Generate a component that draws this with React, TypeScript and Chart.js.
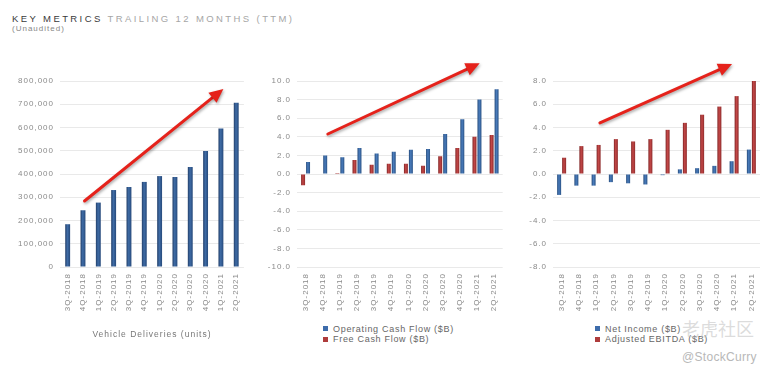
import React, { useEffect, useRef } from "react";
import { Chart, registerables } from "chart.js";

Chart.register(...registerables);

// ---------- data ----------
const quarters = [
  "3Q-2018", "4Q-2018", "1Q-2019", "2Q-2019", "3Q-2019", "4Q-2019",
  "1Q-2020", "2Q-2020", "3Q-2020", "4Q-2020", "1Q-2021", "2Q-2021",
];
const vehicleDeliveries = [184000, 244000, 277000, 331000, 344000, 366000, 391000, 387000, 430000, 499000, 596000, 706000];
const operatingCashFlow = [1.3, 2.0, 1.8, 2.8, 2.2, 2.4, 2.6, 2.7, 4.3, 5.9, 8.0, 9.1];
const freeCashFlow = [-1.2, 0.0, 0.1, 1.5, 1.0, 1.1, 1.1, 0.9, 1.9, 2.8, 4.0, 4.2];
const netIncome = [-1.8, -1.0, -1.0, -0.7, -0.8, -0.9, -0.1, 0.4, 0.5, 0.7, 1.1, 2.1];
const adjustedEbitda = [1.4, 2.4, 2.5, 3.0, 2.8, 3.0, 3.8, 4.4, 5.1, 5.8, 6.7, 8.0];

// axis ranges [min, max, step]
const deliveriesAxis = [0, 800000, 100000];
const cashAxis = [-10, 10, 2];
const incomeAxis = [-8, 8, 2];

// trend arrows in data units: [categoryIndex, value]
const deliveriesArrowFrom = [1.1, 284000];
const deliveriesArrowTo = [10.16, 766000];
const cashArrowFrom = [1.3, 4.3];
const cashArrowTo = [10.16, 11.9];
const incomeArrowFrom = [2.22, 4.4];
const incomeArrowTo = [9.88, 9.46];

const titleMain = "KEY METRICS";
const titleSub = "TRAILING 12 MONTHS (TTM)";
const titleNote = "(Unaudited)";
const deliveriesLabel = "Vehicle Deliveries (units)";
const cashLabels = ["Operating Cash Flow ($B)", "Free Cash Flow ($B)"];
const incomeLabels = ["Net Income ($B)", "Adjusted EBITDA ($B)"];

// ---------- styles ----------
const BLUE = "#3d6cab";
const RED = "#ae3b3b";
const BLUE_STOPS = ["#244a7a", "#4a7cbc", "#2a5386"];
const BLUE_DARK_STOPS = ["#223f6a", "#3f6ca6", "#26497a"];
const RED_STOPS = ["#7f2424", "#c44848", "#8e2b2b"];
const ARROW_RED = "#e5221b";
const FONT = '"Liberation Sans", Arial, Helvetica, sans-serif';
const TICK_COLOR = "#8a8a8a";
const GRID_COLOR = "#e9e9e9";

const spacingPlugin = {
  id: "letterSpacing",
  beforeLayout(chart: any) {
    (chart.ctx as any).letterSpacing = "1px";
  },
  beforeDraw(chart: any) {
    (chart.ctx as any).letterSpacing = "1px";
  },
};

const gradientPlugin = {
  id: "barGradient",
  beforeDatasetsDraw(chart: any) {
    const ctx = chart.ctx;
    chart.data.datasets.forEach((ds: any, i: number) => {
      const stops = ds.gradientStops;
      if (!stops) return;
      const meta = chart.getDatasetMeta(i);
      meta.data.forEach((el: any) => {
        const w = el.width || 1;
        const x0 = el.x - w / 2;
        const g = ctx.createLinearGradient(x0, 0, x0 + w, 0);
        g.addColorStop(0, stops[0]);
        g.addColorStop(0.45, stops[1]);
        g.addColorStop(1, stops[2]);
        el.options.backgroundColor = g;
      });
    });
  },
};

const arrowPlugin = {
  id: "trendArrow",
  afterDraw(chart: any, _args: any, opts: any) {
    if (!opts || !opts.from) return;
    const xs = chart.scales.x;
    const ys = chart.scales.y;
    const x0 = xs.getPixelForValue(opts.from[0]);
    const y0 = ys.getPixelForValue(opts.from[1]);
    const x1 = xs.getPixelForValue(opts.to[0]);
    const y1 = ys.getPixelForValue(opts.to[1]);
    const ang = Math.atan2(y1 - y0, x1 - x0);
    const head = 14;
    const hw = 6.5;
    const bx = x1 - head * Math.cos(ang);
    const by = y1 - head * Math.sin(ang);
    const ctx = chart.ctx;
    ctx.save();
    ctx.shadowColor = "rgba(0,0,0,0.35)";
    ctx.shadowBlur = 3;
    ctx.shadowOffsetX = 1;
    ctx.shadowOffsetY = 1.5;
    ctx.strokeStyle = ARROW_RED;
    ctx.fillStyle = ARROW_RED;
    ctx.lineWidth = 3;
    ctx.lineCap = "round";
    ctx.beginPath();
    ctx.moveTo(x0, y0);
    ctx.lineTo(bx + 2 * Math.cos(ang), by + 2 * Math.sin(ang));
    ctx.stroke();
    ctx.beginPath();
    ctx.moveTo(x1, y1);
    ctx.lineTo(bx + hw * Math.sin(ang), by - hw * Math.cos(ang));
    ctx.lineTo(bx - hw * Math.sin(ang), by + hw * Math.cos(ang));
    ctx.closePath();
    ctx.fill();
    ctx.restore();
  },
};

const tickFont = { family: FONT, size: 8 };

function makeOptions(p: {
  axis: number[];
  yWidth: number;
  xHeight: number;
  padRight: number;
  format: (v: number) => string;
  arrowFrom: number[];
  arrowTo: number[];
  xTitle?: string;
}) {
  return {
    responsive: false,
    animation: false,
    layout: { padding: { top: 81, right: p.padRight, left: 0, bottom: 0 } },
    plugins: {
      legend: { display: false },
      tooltip: { enabled: false },
      trendArrow: { from: p.arrowFrom, to: p.arrowTo },
    },
    scales: {
      x: {
        grid: { display: false, drawTicks: false },
        border: { display: false },
        ticks: {
          font: tickFont,
          color: TICK_COLOR,
          minRotation: 90,
          maxRotation: 90,
          autoSkip: false,
          padding: 6,
        },
        title: p.xTitle
          ? {
              display: true,
              text: p.xTitle,
              color: "#777",
              font: { family: FONT, size: 8.5 },
              padding: { top: 0, bottom: 2 },
            }
          : { display: false },
        afterFit(scale: any) {
          scale.height = p.xHeight;
        },
      },
      y: {
        min: p.axis[0],
        max: p.axis[1],
        grid: { color: GRID_COLOR, lineWidth: 1, drawTicks: false },
        border: { display: false },
        ticks: {
          stepSize: p.axis[2],
          font: tickFont,
          color: TICK_COLOR,
          padding: 6,
          callback: (v: any) => p.format(Number(v)),
        },
        afterFit(scale: any) {
          scale.width = p.yWidth;
        },
      },
    },
  };
}

function ChartCanvas({ config, left, width, height }: any) {
  const ref = useRef<HTMLCanvasElement | null>(null);
  useEffect(() => {
    if (!ref.current) return;
    const chart = new Chart(ref.current, config);
    return () => chart.destroy();
  }, []);
  return (
    <canvas
      ref={ref}
      width={width}
      height={height}
      style={{ position: "absolute", left, top: 0, width, height }}
    />
  );
}

function Legend({ items, left }: { items: { label: string; color: string }[]; left: number }) {
  return (
    <div style={{ position: "absolute", left, top: 323.5 }}>
      {items.map((it) => (
        <div
          key={it.label}
          style={{
            display: "flex",
            alignItems: "center",
            height: 10.5,
            fontSize: 9,
            letterSpacing: "0.7px",
            color: "#666",
            whiteSpace: "nowrap",
          }}
        >
          <span style={{ display: "inline-block", width: 5, height: 5, background: it.color, marginRight: 5 }} />
          {it.label}
        </div>
      ))}
    </div>
  );
}

// scriptable colour keeps per-bar option objects (so gradients can be set per bar)
const solid = (c: string) => () => c;

export default function App() {
  const fmtThousands = (v: number) => v.toLocaleString("en-US");
  const fmtOne = (v: number) => v.toFixed(1);

  const deliveriesConfig: any = {
    type: "bar",
    data: {
      labels: quarters,
      datasets: [
        {
          label: deliveriesLabel,
          data: vehicleDeliveries,
          backgroundColor: solid(BLUE),
          gradientStops: BLUE_DARK_STOPS,
          categoryPercentage: 0.8,
          barPercentage: 0.4,
        },
      ],
    },
    options: makeOptions({
      axis: deliveriesAxis,
      yWidth: 60,
      xHeight: 75,
      padRight: 4,
      format: fmtThousands,
      arrowFrom: deliveriesArrowFrom,
      arrowTo: deliveriesArrowTo,
      xTitle: deliveriesLabel,
    }),
    plugins: [spacingPlugin, gradientPlugin, arrowPlugin],
  };

  const cashConfig: any = {
    type: "bar",
    data: {
      labels: quarters,
      datasets: [
        { label: cashLabels[1], data: freeCashFlow, backgroundColor: solid(RED), gradientStops: RED_STOPS, categoryPercentage: 0.58, barPercentage: 0.8 },
        { label: cashLabels[0], data: operatingCashFlow, backgroundColor: solid(BLUE), gradientStops: BLUE_STOPS, categoryPercentage: 0.58, barPercentage: 0.8 },
      ],
    },
    options: makeOptions({
      axis: cashAxis,
      yWidth: 45,
      xHeight: 45,
      padRight: 7,
      format: fmtOne,
      arrowFrom: cashArrowFrom,
      arrowTo: cashArrowTo,
    }),
    plugins: [spacingPlugin, gradientPlugin, arrowPlugin],
  };

  const incomeConfig: any = {
    type: "bar",
    data: {
      labels: quarters,
      datasets: [
        { label: incomeLabels[0], data: netIncome, backgroundColor: solid(BLUE), gradientStops: BLUE_STOPS, categoryPercentage: 0.58, barPercentage: 0.8 },
        { label: incomeLabels[1], data: adjustedEbitda, backgroundColor: solid(RED), gradientStops: RED_STOPS, categoryPercentage: 0.58, barPercentage: 0.8 },
      ],
    },
    options: makeOptions({
      axis: incomeAxis,
      yWidth: 41,
      xHeight: 45,
      padRight: 14,
      format: fmtOne,
      arrowFrom: incomeArrowFrom,
      arrowTo: incomeArrowTo,
    }),
    plugins: [spacingPlugin, gradientPlugin, arrowPlugin],
  };

  return (
    <div
      style={{
        position: "fixed",
        left: 0,
        top: 0,
        width: 774,
        height: 377,
        background: "#ffffff",
        overflow: "hidden",
        fontFamily: FONT,
      }}
    >
      <div
        style={{
          position: "absolute",
          left: 12,
          top: 13.5,
          fontSize: 9.5,
          lineHeight: 1,
          letterSpacing: "2.4px",
          whiteSpace: "nowrap",
        }}
      >
        <span style={{ color: "#3a3a3a" }}>{titleMain}</span>{" "}
        <span style={{ color: "#a6a6a6" }}>{titleSub}</span>
      </div>
      <div
        style={{
          position: "absolute",
          left: 12,
          top: 24.5,
          fontSize: 8,
          lineHeight: 1,
          letterSpacing: "1px",
          color: "#888",
        }}
      >
        {titleNote}
      </div>

      <ChartCanvas config={deliveriesConfig} left={0} width={252} height={342} />
      <ChartCanvas config={cashConfig} left={252} width={258} height={312} />
      <ChartCanvas config={incomeConfig} left={512} width={262} height={312} />

      <Legend
        left={323}
        items={[
          { label: cashLabels[0], color: BLUE },
          { label: cashLabels[1], color: RED },
        ]}
      />
      <Legend
        left={595}
        items={[
          { label: incomeLabels[0], color: BLUE },
          { label: incomeLabels[1], color: RED },
        ]}
      />

      <div
        style={{
          position: "absolute",
          left: 682,
          top: 319,
          fontSize: 18,
          lineHeight: 1,
          color: "rgba(185,185,185,0.5)",
          fontFamily: '"Noto Sans CJK SC", sans-serif',
          whiteSpace: "nowrap",
        }}
      >
        老虎社区
      </div>
      <div
        style={{
          position: "absolute",
          left: 682,
          top: 351,
          fontSize: 12,
          lineHeight: 1,
          letterSpacing: "0.3px",
          color: "#b8b8b8",
          whiteSpace: "nowrap",
        }}
      >
        @StockCurry
      </div>
    </div>
  );
}
